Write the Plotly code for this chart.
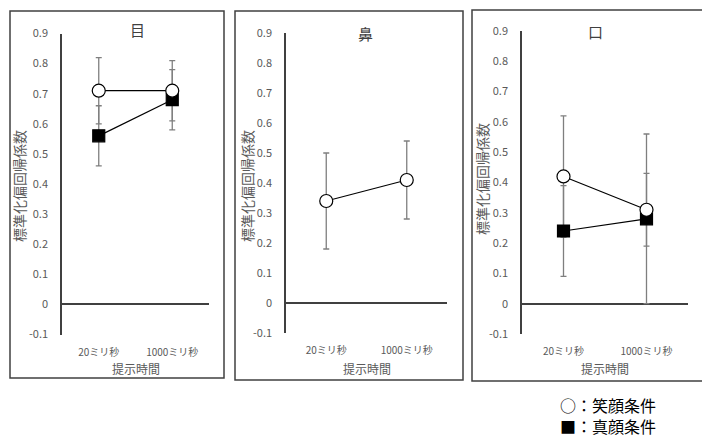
import plotly.graph_objects as go

W, H = 702, 437

categories = ["20ミリ秒", "1000ミリ秒"]
panel_titles = ["目", "鼻", "口"]

# 笑顔条件 (circle)
smile_vals = [[0.71, 0.71], [0.34, 0.41], [0.42, 0.31]]
smile_err = [[0.11, 0.10], [0.16, 0.13], [0.20, 0.12]]
# 真顔条件 (square); None = not shown
neutral_vals = [[0.56, 0.68], None, [0.24, 0.28]]
neutral_err = [[0.10, 0.10], None, [0.15, 0.28]]

y_ticks = [-0.1, 0, 0.1, 0.2, 0.3, 0.4, 0.5, 0.6, 0.7, 0.8, 0.9]
y_title = "標準化偏回帰係数"
x_title = "提示時間"
legend_lines = ["○：笑顔条件", "■：真顔条件"]

# layout geometry in pixels
plot_x = [(62, 209), (286, 447), (522, 688)]
plot_y = [(33.5, 334.5), (33, 333), (31, 334)]
frames = [(10, 11, 224, 378), (235, 11, 463, 380), (472, 10, 704, 381)]
title_pos = [(137, 29), (365, 34), (595, 32)]
ytitle_pos = [(19, 186), (247, 186), (482, 179)]

FONT = "Noto Sans CJK JP"
GRAY = "#595959"

def fx(px):
    return px / W

def fy(py):
    return 1 - py / H

fig = go.Figure()
xidx = [0, 1]

def note(text, px, py, size, color, angle=0, xanchor="center", align="center"):
    fig.add_annotation(text=text, x=fx(px), y=fy(py), textangle=angle,
                       xref="paper", yref="paper", showarrow=False,
                       xanchor=xanchor, yanchor="middle", align=align,
                       font=dict(family=FONT, size=size, color=color))

for i in range(3):
    n = "" if i == 0 else str(i + 1)
    xa, ya = "x" + n, "y" + n
    series = []
    if neutral_vals[i] is not None:
        series.append((neutral_vals[i], neutral_err[i], "square", "black", 12))
    series.append((smile_vals[i], smile_err[i], "circle", "white", 13))
    # error bars first
    for vals, err, sym, col, sz in series:
        fig.add_trace(go.Scatter(
            x=xidx, y=vals, xaxis=xa, yaxis=ya, mode="markers",
            marker=dict(size=2, color="rgba(0,0,0,0)"),
            error_y=dict(type="data", array=err, visible=True,
                         color="#7f7f7f", thickness=1.3, width=3),
            showlegend=False, hoverinfo="skip"))
    for vals, err, sym, col, sz in series:
        fig.add_trace(go.Scatter(
            x=xidx, y=vals, xaxis=xa, yaxis=ya, mode="lines+markers",
            line=dict(color="black", width=1.2),
            marker=dict(symbol=sym, size=sz, color=col,
                        line=dict(color="black", width=1.2)),
            showlegend=False))

    x0, x1 = plot_x[i]
    y0, y1 = plot_y[i]
    fig.update_layout(**{
        ("xaxis" + n): dict(
            domain=[fx(x0), fx(x1)], range=[-0.5, 1.5],
            tickvals=xidx, ticktext=categories, showgrid=False,
            zeroline=False, showline=False, ticks="", automargin=False,
            tickfont=dict(family=FONT, size=10, color=GRAY),
            ticklabelstandoff=10, anchor=ya, fixedrange=True),
        ("yaxis" + n): dict(
            domain=[fy(y1), fy(y0)], range=[-0.1, 0.9],
            tickvals=y_ticks, ticktext=[("%g" % v) for v in y_ticks],
            showgrid=False, zeroline=True, zerolinecolor="#404040",
            zerolinewidth=1.5, showline=True, linecolor="#404040",
            linewidth=1.5, ticks="", automargin=False,
            tickfont=dict(family=FONT, size=11, color=GRAY),
            ticklabelstandoff=10, anchor=xa, fixedrange=True),
    })

    # frame
    fx0, fy0, fx1, fy1 = frames[i]
    fig.add_shape(type="rect", xref="paper", yref="paper",
                  x0=fx(fx0), x1=fx(fx1), y0=fy(fy1), y1=fy(fy0),
                  line=dict(color="#404040", width=1.5))
    tx, ty = title_pos[i]
    note(panel_titles[i], tx, ty, 15, "#404040")
    ax, ay = ytitle_pos[i]
    note(y_title, ax, ay, 14, GRAY, angle=-90)
    note(x_title, (x0 + x1) / 2, 368, 12, GRAY)

# two-line legend text as one block
note("<br>".join(legend_lines), 558, 415, 16, "black",
     xanchor="left", align="left")

fig.update_layout(template="none", width=W, height=H,
                  margin=dict(l=0, r=0, t=0, b=0, pad=0),
                  paper_bgcolor="white", plot_bgcolor="white",
                  showlegend=False)

fig.write_html("out.html", config={"displayModeBar": False},
               post_script="document.body.style.margin='0';document.body.style.overflow='hidden';")
